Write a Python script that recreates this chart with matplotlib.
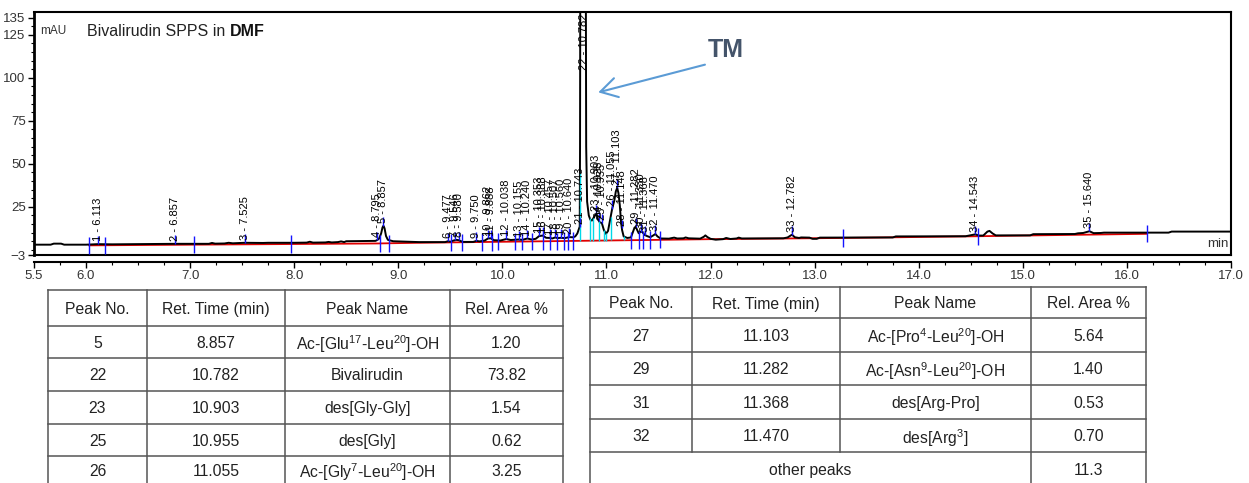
import numpy as np
import matplotlib
matplotlib.use("Agg")
import matplotlib.pyplot as plt
from matplotlib.ticker import MultipleLocator

plt.rcParams['font.family'] = ['Liberation Sans', 'DejaVu Sans']
plt.rcParams['mathtext.default'] = 'regular'

# --- chromatogram trace (min, mAU) ---
trace_t = [5.50, 5.66, 5.69, 5.76, 5.79, 6.00, 6.113, 6.25, 6.857, 7.00, 7.18, 7.21, 7.24,
           7.33, 7.37, 7.41, 7.525, 7.70, 7.75, 8.00, 8.12, 8.15, 8.18, 8.30, 8.33, 8.36,
           8.42, 8.45, 8.48, 8.50, 8.78, 8.795, 8.815, 8.835, 8.848, 8.857, 8.868, 8.882,
           8.90, 8.95, 9.20, 9.45, 9.477, 9.50, 9.53, 9.56, 9.58, 9.62, 9.72, 9.75, 9.78,
           9.83, 9.862, 9.888, 9.92, 9.98, 10.038, 10.08, 10.155, 10.19, 10.24, 10.28,
           10.32, 10.353, 10.388, 10.42, 10.457, 10.48, 10.507, 10.53, 10.56, 10.60, 10.64,
           10.68, 10.70, 10.72, 10.735, 10.743, 10.746, 10.748, 10.775, 10.802, 10.805,
           10.814, 10.83, 10.845, 10.86, 10.885, 10.903, 10.92, 10.935, 10.955, 10.975,
           10.995, 11.015, 11.035, 11.055, 11.075, 11.09, 11.103, 11.115, 11.128, 11.14,
           11.15, 11.165, 11.20, 11.235, 11.255, 11.27, 11.282, 11.295, 11.31, 11.33,
           11.345, 11.368, 11.39, 11.42, 11.445, 11.47, 11.49, 11.52, 11.60, 11.65, 11.68,
           11.74, 11.76, 11.79, 11.90, 11.935, 11.95, 11.97, 12.00, 12.05, 12.12, 12.15,
           12.19, 12.25, 12.27, 12.30, 12.70, 12.74, 12.782, 12.81, 12.85, 12.87, 12.95,
           12.98, 13.02, 13.05, 13.75, 13.78, 14.45, 14.50, 14.543, 14.58, 14.62, 14.66,
           14.68, 14.71, 14.74, 15.07, 15.10, 15.50, 15.53, 15.58, 15.64, 15.68, 15.75,
           15.78, 16.40, 16.43, 17.00]
trace_mau = [3.0, 3.0, 3.6, 3.6, 3.0, 3.0, 3.3, 3.2, 3.5, 3.5, 3.5, 4.0, 3.6,
             3.7, 4.1, 3.8, 4.1, 4.0, 4.1, 4.1, 4.2, 4.7, 4.2, 4.3, 4.6, 4.3,
             4.5, 4.9, 4.5, 5.0, 5.2, 5.6, 6.5, 9.5, 13.0, 14.0, 12.5, 8.0,
             5.8, 5.0, 4.5, 4.5, 5.0, 4.7, 5.4, 5.8, 5.6, 4.6, 4.6, 5.2, 4.9,
             5.4, 6.6, 6.7, 5.6, 5.4, 6.3, 5.7, 6.0, 5.8, 6.6, 6.0,
             6.4, 8.0, 8.3, 7.0, 6.9, 6.6, 7.2, 6.8, 7.0, 6.8, 7.4,
             7.3, 7.8, 9.5, 12.0, 13.5, 60.0, 145.0, 620.0, 145.0, 60.0,
             28.0, 20.0, 17.5, 17.0, 19.5, 21.0, 17.5, 16.0, 15.6, 11.5,
             9.3, 11.0, 17.5, 24.0, 28.5, 34.0, 36.0, 33.0, 26.0, 16.0,
             11.5, 7.8, 6.9, 7.2, 10.5, 13.0, 13.3, 11.5, 9.6, 10.6,
             10.3, 8.6, 8.0, 7.3, 8.2, 9.2, 7.8, 6.6, 6.5, 7.1, 6.6,
             6.7, 7.2, 6.7, 6.5, 7.6, 8.4, 7.4, 6.4, 5.9, 6.2, 6.9,
             6.3, 6.6, 7.1, 6.6, 6.7, 7.2, 8.8, 7.3, 6.9, 7.2, 7.1,
             6.4, 6.4, 7.1, 7.2, 7.8, 7.9, 8.5, 9.0, 8.3, 8.3, 10.6,
             11.0, 9.5, 8.4, 8.4, 9.1, 9.2, 9.6, 9.8, 10.8, 9.7, 9.8,
             10.0, 10.0, 10.6, 10.6]

# integration baseline (red)
base_t = [6.03, 8.80, 9.20, 10.70, 11.50, 12.00, 13.27, 14.57, 15.00, 16.19]
base_mau = [2.6, 3.7, 4.1, 5.2, 5.8, 6.2, 6.9, 7.9, 8.3, 9.3]

# peak table of the software (number, retention time)
peak_no = list(range(1, 36))
peak_rt = [6.113, 6.857, 7.525, 8.795, 8.857, 9.477, 9.546, 9.580, 9.750, 9.862,
           9.888, 10.038, 10.155, 10.240, 10.353, 10.388, 10.457, 10.507, 10.560, 10.640,
           10.743, 10.782, 10.903, 10.928, 10.955, 11.055, 11.103, 11.148, 11.282, 11.330,
           11.368, 11.470, 12.782, 14.543, 15.640]

# peak start/end markers (blue) and peak split drops (cyan)
delim_t = [6.03, 6.18, 7.04, 7.97, 8.82, 8.91, 9.51, 9.61, 9.80, 9.90, 9.96, 10.12,
           10.19, 10.28, 10.39, 10.46, 10.52, 10.59, 10.63, 10.68, 11.24, 11.31, 11.35,
           11.42, 11.51, 13.27, 14.57, 16.19]
split_t = [10.745, 10.84, 10.875, 10.93, 10.975, 11.00, 11.04, 11.165]

# --- tables ---
tab_head = ["Peak No.", "Ret. Time (min)", "Peak Name", "Rel. Area %"]
left_no = ["5", "22", "23", "25", "26"]
left_rt = ["8.857", "10.782", "10.903", "10.955", "11.055"]
left_name = ["Ac-[Glu$^{17}$-Leu$^{20}$]-OH", "Bivalirudin", "des[Gly-Gly]", "des[Gly]",
             "Ac-[Gly$^{7}$-Leu$^{20}$]-OH"]
left_area = ["1.20", "73.82", "1.54", "0.62", "3.25"]
right_no = ["27", "29", "31", "32"]
right_rt = ["11.103", "11.282", "11.368", "11.470"]
right_name = ["Ac-[Pro$^{4}$-Leu$^{20}$]-OH", "Ac-[Asn$^{9}$-Leu$^{20}$]-OH", "des[Arg-Pro]",
              "des[Arg$^{3}$]"]
right_area = ["5.64", "1.40", "0.53", "0.70"]
other_label = "other peaks"
other_area = "11.3"

W, H = 1249, 483
YTOP = 138.2
fig = plt.figure(figsize=(W / 100, H / 100), dpi=100)
ax = fig.add_axes([34 / W, 1 - 255 / H, (1231 - 34) / W, 243 / H])
ax.set_xlim(5.5, 17.0)
ax.set_ylim(-3, YTOP)

ax.plot(base_t, base_mau, color='#e00000', lw=1.3, zorder=2)
ax.plot(trace_t, trace_mau, color='black', lw=1.4, zorder=3)

lo = np.interp(split_t, base_t, base_mau)
hi = np.interp(split_t, trace_t, trace_mau)
ax.vlines(split_t, lo, hi, color='#00d8e8', lw=1, zorder=4)

b = np.interp(delim_t, base_t, base_mau)
ax.vlines(delim_t, b - 5, b + 5, color='#1414ff', lw=1, zorder=4)

# peak labels sit on top of each peak
h = np.interp(peak_rt, trace_t, trace_mau)
for n, rt, hh in zip(peak_no, peak_rt, h):
    txt = f"{n} - {rt:.3f}"
    if hh < YTOP - 20:
        ax.vlines(rt, hh, hh + 5, color='#1414ff', lw=1, zorder=4)
        ax.annotate(txt, xy=(rt, hh), xytext=(0, 2), textcoords='offset points',
                    rotation=90, ha='center', va='bottom', fontsize=8, zorder=5)
    else:
        ax.annotate(txt, xy=(rt, YTOP), xytext=(0, -1), textcoords='offset points',
                    rotation=90, ha='center', va='top', fontsize=8, zorder=5)

# axes styling
ax.set_xticks([5.5] + list(range(6, 18)))
ax.set_xticklabels([f"{v:.1f}" for v in [5.5] + list(range(6, 18))])
ax.xaxis.set_minor_locator(MultipleLocator(0.25))
ax.set_yticks([-3, 25, 50, 75, 100, 125, 135])
ax.yaxis.set_minor_locator(MultipleLocator(5))
ax.tick_params(which='major', direction='out', length=4, width=1, labelsize=9.5,
               labelcolor='#333333', pad=2)
ax.tick_params(which='minor', direction='out', length=2.5, width=0.8)
for s in ax.spines.values():
    s.set_linewidth(1.5)
ax.spines['left'].set_linewidth(2)
ax.spines['bottom'].set_position(('outward', 5))
ax.plot([0, 1], [0, 0], transform=ax.transAxes, color='black', lw=1.5, clip_on=False)

ax.text(0.005, 0.92, "mAU", transform=ax.transAxes, fontsize=8.5, color='#333333',
        va='center')
t1 = ax.text(0.044, 0.92, "Bivalirudin SPPS in ", transform=ax.transAxes, fontsize=11.5,
             color='#222222', va='center')
ax.annotate("DMF", xy=(1, 0), xycoords=t1, ha='left', va='bottom', fontsize=11.5,
            fontweight='bold', color='#111111')
ax.text(0.998, 0.02, "min", transform=ax.transAxes, ha='right', va='bottom', fontsize=9.5,
        color='#333333')

ax.text(11.975, 116.3, "TM", fontsize=18, fontweight='bold', color='#44546A',
        ha='left', va='center')
ax.annotate("", xy=(10.921, 91.5), xytext=(11.946, 107.6),
            arrowprops=dict(arrowstyle='->, head_length=0.6, head_width=0.35',
                            color='#5B9BD5', lw=1.5, mutation_scale=20,
                            shrinkA=0, shrinkB=0))

# tables drawn in pixel space
tax = fig.add_axes([0, 0, 1, 1])
tax.set_xlim(0, W)
tax.set_ylim(H, 0)
tax.axis('off')

def draw_table(cols, rows, cells, merged_last=False):
    lc = '#555555'
    for r in rows:
        tax.plot([cols[0], cols[-1]], [r, r], color=lc, lw=1.1)
    for j, c in enumerate(cols):
        bottom = rows[-1]
        if merged_last and 0 < j < len(cols) - 2:
            bottom = rows[-2]
        tax.plot([c, c], [rows[0], bottom], color=lc, lw=1.1)
    for i, row in enumerate(cells):
        yc = (rows[i] + rows[i + 1]) / 2
        for j, s in enumerate(row):
            if s is None:
                continue
            if isinstance(s, tuple):
                s, j0, j1 = s
                xc = (cols[j0] + cols[j1]) / 2
            else:
                xc = (cols[j] + cols[j + 1]) / 2
            tax.text(xc, yc, s, ha='center', va='center_baseline', fontsize=11.3,
                     color='#222222')

left_cells = [tab_head] + [list(r) for r in zip(left_no, left_rt, left_name, left_area)]
draw_table([48, 147, 285, 450, 563], [290, 325.5, 358, 391, 423.5, 456, 484], left_cells)

right_cells = [tab_head] + [list(r) for r in zip(right_no, right_rt, right_name, right_area)]
right_cells.append([(other_label, 0, 3), None, None, other_area])
draw_table([590, 692, 840, 1031, 1146], [287, 318, 351.5, 385, 418.5, 452, 486],
           right_cells, merged_last=True)

fig.savefig("out.png", dpi=100)
